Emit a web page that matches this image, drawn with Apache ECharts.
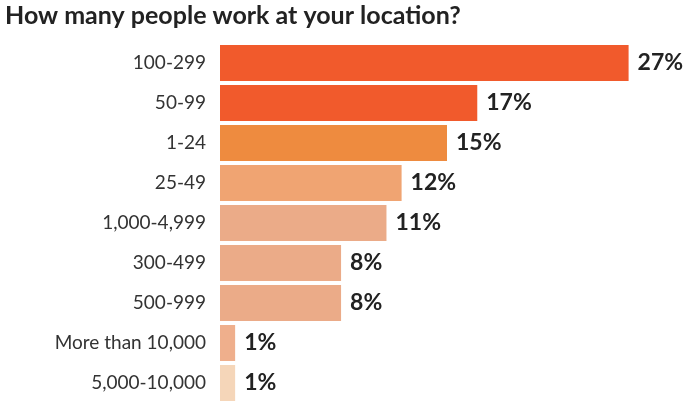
<!DOCTYPE html>
<html>
<head>
<meta charset="utf-8">
<script src="https://cdn.jsdelivr.net/npm/echarts@6/dist/echarts.min.js"></script>
<style>html,body{margin:0;padding:0;background:#fff}#chart{width:700px;height:403px}</style>
</head>
<body>
<div id="chart"></div>
<script>
// data, top to bottom
const categories = ['100-299', '50-99', '1-24', '25-49', '1,000-4,999', '300-499', '500-999', 'More than 10,000', '5,000-10,000'];
const values = [27, 17, 15, 12, 11, 8, 8, 1, 1];
const colors = ['#F15A2C', '#F15A2C', '#EE8B3F', '#F0A472', '#EBAB88', '#EBAB88', '#EBAB88', '#EFAF8C', '#F5D6B9'];

const chart = echarts.init(document.getElementById('chart'));
chart.setOption({
    animation: false,
    title: {
        text: 'How many people work at your location?',
        left: 0, top: -2,
        textStyle: { fontFamily: 'Lato', fontSize: 25, fontWeight: 'bold', color: '#222' }
    },
    grid: { left: 220, right: 26, top: 43, bottom: 0 },
    xAxis: { type: 'value', min: 0, max: 30, show: false },
    yAxis: {
        type: 'category',
        inverse: true,
        data: categories,
        axisLine: { show: false },
        axisTick: { show: false },
        axisLabel: { margin: 14, fontFamily: 'Lato', fontSize: 19, color: '#333' }
    },
    series: [{
        type: 'bar',
        barWidth: 36,
        data: values.map((v, i) => ({ value: v, itemStyle: { color: colors[i] } })),
        label: {
            show: true,
            position: 'right',
            distance: 9,
            formatter: '{c}%',
            fontFamily: 'Lato',
            fontSize: 23,
            fontWeight: 'bold',
            color: '#222'
        }
    }]
});
</script>
</body>
</html>
